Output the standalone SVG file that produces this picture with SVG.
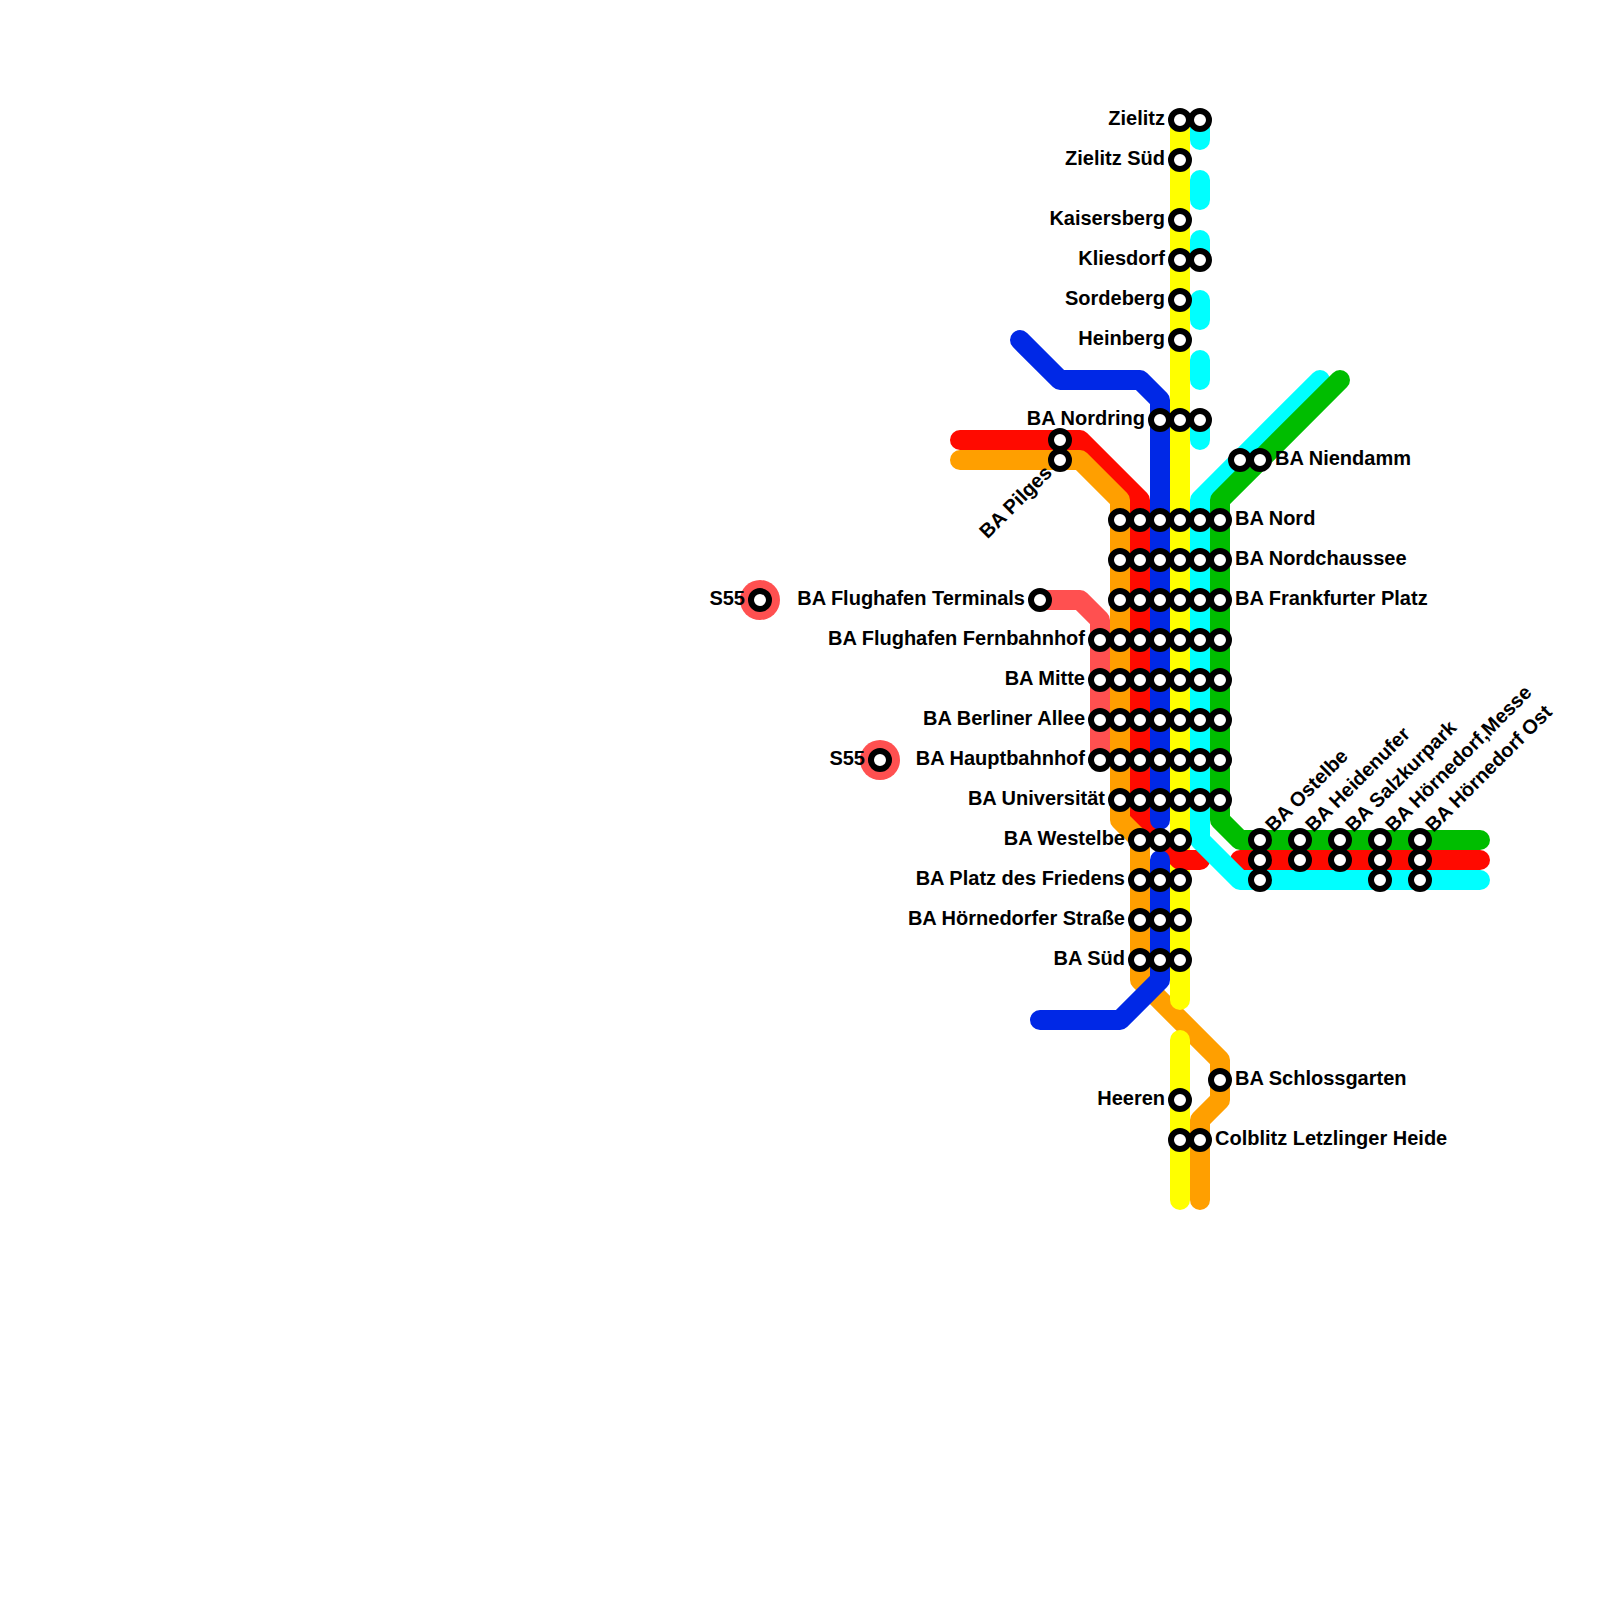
<svg xmlns="http://www.w3.org/2000/svg" width="1600" height="1600" viewBox="0 0 1600 1600">
<style>
.l{fill:none;stroke-width:20;stroke-linecap:round;stroke-linejoin:round}
.st{fill:#fff;stroke:#000;stroke-width:6}
text{font-family:"Liberation Sans",Arial,sans-serif;font-weight:700;font-size:20px;fill:#000}
.e{text-anchor:end}
</style>
<rect width="1600" height="1600" fill="#fff"/>
<g id="connectors">
<path class="l" stroke="#ff5050" d="M1040 600H1080L1100 620V760"/>
<path class="l" stroke="#ff0a00" d="M960 440H1080L1140 500V820L1160 840"/>
<path class="l" stroke="#ff0a00" d="M1240 860H1480"/>
<path class="l" stroke="#ff9f00" d="M960 460H1080L1120 500V820L1140 840V980L1220 1060V1100L1200 1120V1200"/>
<path class="l" stroke="#ffff00" d="M1180 120V1000"/>
<path class="l" stroke="#ffff00" d="M1180 1040V1200"/>
<path class="l" stroke="#ff0a00" d="M1160 840L1180 860H1200"/>
<path class="l" stroke="#0028e6" d="M1020 340L1060 380H1140L1160 400V820"/>
<path class="l" stroke="#0028e6" d="M1160 860V980L1120 1020H1040"/>
<path class="l" stroke="#00ffff" stroke-dasharray="20 40" d="M1200 120V440"/>
<path class="l" stroke="#00ffff" d="M1320 380L1200 500V840L1240 880H1480"/>
<path class="l" stroke="#00bd00" d="M1340 380L1220 500V820L1240 840H1480"/>
</g>
<g id="S55a"><circle cx="760" cy="600" r="20" fill="#ff5050"/><circle class="st" cx="760" cy="600" r="9"/><text class="e" x="745" y="605">S55</text></g>
<g id="S55b"><circle cx="880" cy="760" r="20" fill="#ff5050"/><circle class="st" cx="880" cy="760" r="9"/><text class="e" x="865" y="765">S55</text></g>
<g id="Zielitz"><circle class="st" cx="1180" cy="120" r="9"/><circle class="st" cx="1200" cy="120" r="9"/><text class="e" x="1165" y="125">Zielitz</text></g>
<g id="ZielitzSued"><circle class="st" cx="1180" cy="160" r="9"/><text class="e" x="1165" y="165">Zielitz Süd</text></g>
<g id="Kaisersberg"><circle class="st" cx="1180" cy="220" r="9"/><text class="e" x="1165" y="225">Kaisersberg</text></g>
<g id="Kliesdorf"><circle class="st" cx="1180" cy="260" r="9"/><circle class="st" cx="1200" cy="260" r="9"/><text class="e" x="1165" y="265">Kliesdorf</text></g>
<g id="Sordeberg"><circle class="st" cx="1180" cy="300" r="9"/><text class="e" x="1165" y="305">Sordeberg</text></g>
<g id="Heinberg"><circle class="st" cx="1180" cy="340" r="9"/><text class="e" x="1165" y="345">Heinberg</text></g>
<g id="Nordring"><circle class="st" cx="1160" cy="420" r="9"/><circle class="st" cx="1180" cy="420" r="9"/><circle class="st" cx="1200" cy="420" r="9"/><text class="e" x="1145" y="425">BA Nordring</text></g>
<g id="Pilges"><circle class="st" cx="1060" cy="440" r="9"/><circle class="st" cx="1060" cy="460" r="9"/><text class="e" transform="translate(1053 474) rotate(-45)">BA Pilges</text></g>
<g id="Niendamm"><circle class="st" cx="1240" cy="460" r="9"/><circle class="st" cx="1260" cy="460" r="9"/><text x="1275" y="465">BA Niendamm</text></g>
<g id="Nord"><circle class="st" cx="1120" cy="520" r="9"/><circle class="st" cx="1140" cy="520" r="9"/><circle class="st" cx="1160" cy="520" r="9"/><circle class="st" cx="1180" cy="520" r="9"/><circle class="st" cx="1200" cy="520" r="9"/><circle class="st" cx="1220" cy="520" r="9"/><text x="1235" y="525">BA Nord</text></g>
<g id="Nordchaussee"><circle class="st" cx="1120" cy="560" r="9"/><circle class="st" cx="1140" cy="560" r="9"/><circle class="st" cx="1160" cy="560" r="9"/><circle class="st" cx="1180" cy="560" r="9"/><circle class="st" cx="1200" cy="560" r="9"/><circle class="st" cx="1220" cy="560" r="9"/><text x="1235" y="565">BA Nordchaussee</text></g>
<g id="Frankfurter"><circle class="st" cx="1120" cy="600" r="9"/><circle class="st" cx="1140" cy="600" r="9"/><circle class="st" cx="1160" cy="600" r="9"/><circle class="st" cx="1180" cy="600" r="9"/><circle class="st" cx="1200" cy="600" r="9"/><circle class="st" cx="1220" cy="600" r="9"/><text x="1235" y="605">BA Frankfurter Platz</text></g>
<g id="Terminals"><circle class="st" cx="1040" cy="600" r="9"/><text class="e" x="1025" y="605">BA Flughafen Terminals</text></g>
<g id="Fernbahnhof"><circle class="st" cx="1100" cy="640" r="9"/><circle class="st" cx="1120" cy="640" r="9"/><circle class="st" cx="1140" cy="640" r="9"/><circle class="st" cx="1160" cy="640" r="9"/><circle class="st" cx="1180" cy="640" r="9"/><circle class="st" cx="1200" cy="640" r="9"/><circle class="st" cx="1220" cy="640" r="9"/><text class="e" x="1085" y="645">BA Flughafen Fernbahnhof</text></g>
<g id="Mitte"><circle class="st" cx="1100" cy="680" r="9"/><circle class="st" cx="1120" cy="680" r="9"/><circle class="st" cx="1140" cy="680" r="9"/><circle class="st" cx="1160" cy="680" r="9"/><circle class="st" cx="1180" cy="680" r="9"/><circle class="st" cx="1200" cy="680" r="9"/><circle class="st" cx="1220" cy="680" r="9"/><text class="e" x="1085" y="685">BA Mitte</text></g>
<g id="Berliner"><circle class="st" cx="1100" cy="720" r="9"/><circle class="st" cx="1120" cy="720" r="9"/><circle class="st" cx="1140" cy="720" r="9"/><circle class="st" cx="1160" cy="720" r="9"/><circle class="st" cx="1180" cy="720" r="9"/><circle class="st" cx="1200" cy="720" r="9"/><circle class="st" cx="1220" cy="720" r="9"/><text class="e" x="1085" y="725">BA Berliner Allee</text></g>
<g id="Hbf"><circle class="st" cx="1100" cy="760" r="9"/><circle class="st" cx="1120" cy="760" r="9"/><circle class="st" cx="1140" cy="760" r="9"/><circle class="st" cx="1160" cy="760" r="9"/><circle class="st" cx="1180" cy="760" r="9"/><circle class="st" cx="1200" cy="760" r="9"/><circle class="st" cx="1220" cy="760" r="9"/><text class="e" x="1085" y="765">BA Hauptbahnhof</text></g>
<g id="Uni"><circle class="st" cx="1120" cy="800" r="9"/><circle class="st" cx="1140" cy="800" r="9"/><circle class="st" cx="1160" cy="800" r="9"/><circle class="st" cx="1180" cy="800" r="9"/><circle class="st" cx="1200" cy="800" r="9"/><circle class="st" cx="1220" cy="800" r="9"/><text class="e" x="1105" y="805">BA Universität</text></g>
<g id="Westelbe"><circle class="st" cx="1140" cy="840" r="9"/><circle class="st" cx="1160" cy="840" r="9"/><circle class="st" cx="1180" cy="840" r="9"/><text class="e" x="1125" y="845">BA Westelbe</text></g>
<g id="Friedens"><circle class="st" cx="1140" cy="880" r="9"/><circle class="st" cx="1160" cy="880" r="9"/><circle class="st" cx="1180" cy="880" r="9"/><text class="e" x="1125" y="885">BA Platz des Friedens</text></g>
<g id="HoernStr"><circle class="st" cx="1140" cy="920" r="9"/><circle class="st" cx="1160" cy="920" r="9"/><circle class="st" cx="1180" cy="920" r="9"/><text class="e" x="1125" y="925">BA Hörnedorfer Straße</text></g>
<g id="Sued"><circle class="st" cx="1140" cy="960" r="9"/><circle class="st" cx="1160" cy="960" r="9"/><circle class="st" cx="1180" cy="960" r="9"/><text class="e" x="1125" y="965">BA Süd</text></g>
<g id="Schlossgarten"><circle class="st" cx="1220" cy="1080" r="9"/><text x="1235" y="1085">BA Schlossgarten</text></g>
<g id="Heeren"><circle class="st" cx="1180" cy="1100" r="9"/><text class="e" x="1165" y="1105">Heeren</text></g>
<g id="Colblitz"><circle class="st" cx="1180" cy="1140" r="9"/><circle class="st" cx="1200" cy="1140" r="9"/><text x="1215" y="1145">Colblitz Letzlinger Heide</text></g>
<g id="Ostelbe"><circle class="st" cx="1260" cy="840" r="9"/><circle class="st" cx="1260" cy="860" r="9"/><circle class="st" cx="1260" cy="880" r="9"/><text transform="translate(1273.5 833) rotate(-45)">BA Ostelbe</text></g>
<g id="Heidenufer"><circle class="st" cx="1300" cy="840" r="9"/><circle class="st" cx="1300" cy="860" r="9"/><text transform="translate(1313.5 833) rotate(-45)">BA Heidenufer</text></g>
<g id="Salzkurpark"><circle class="st" cx="1340" cy="840" r="9"/><circle class="st" cx="1340" cy="860" r="9"/><text transform="translate(1353.5 833) rotate(-45)">BA Salzkurpark</text></g>
<g id="Messe"><circle class="st" cx="1380" cy="840" r="9"/><circle class="st" cx="1380" cy="860" r="9"/><circle class="st" cx="1380" cy="880" r="9"/><text transform="translate(1393.5 833) rotate(-45)">BA Hörnedorf,Messe</text></g>
<g id="Ost"><circle class="st" cx="1420" cy="840" r="9"/><circle class="st" cx="1420" cy="860" r="9"/><circle class="st" cx="1420" cy="880" r="9"/><text transform="translate(1433.5 833) rotate(-45)">BA Hörnedorf Ost</text></g>
</svg>
